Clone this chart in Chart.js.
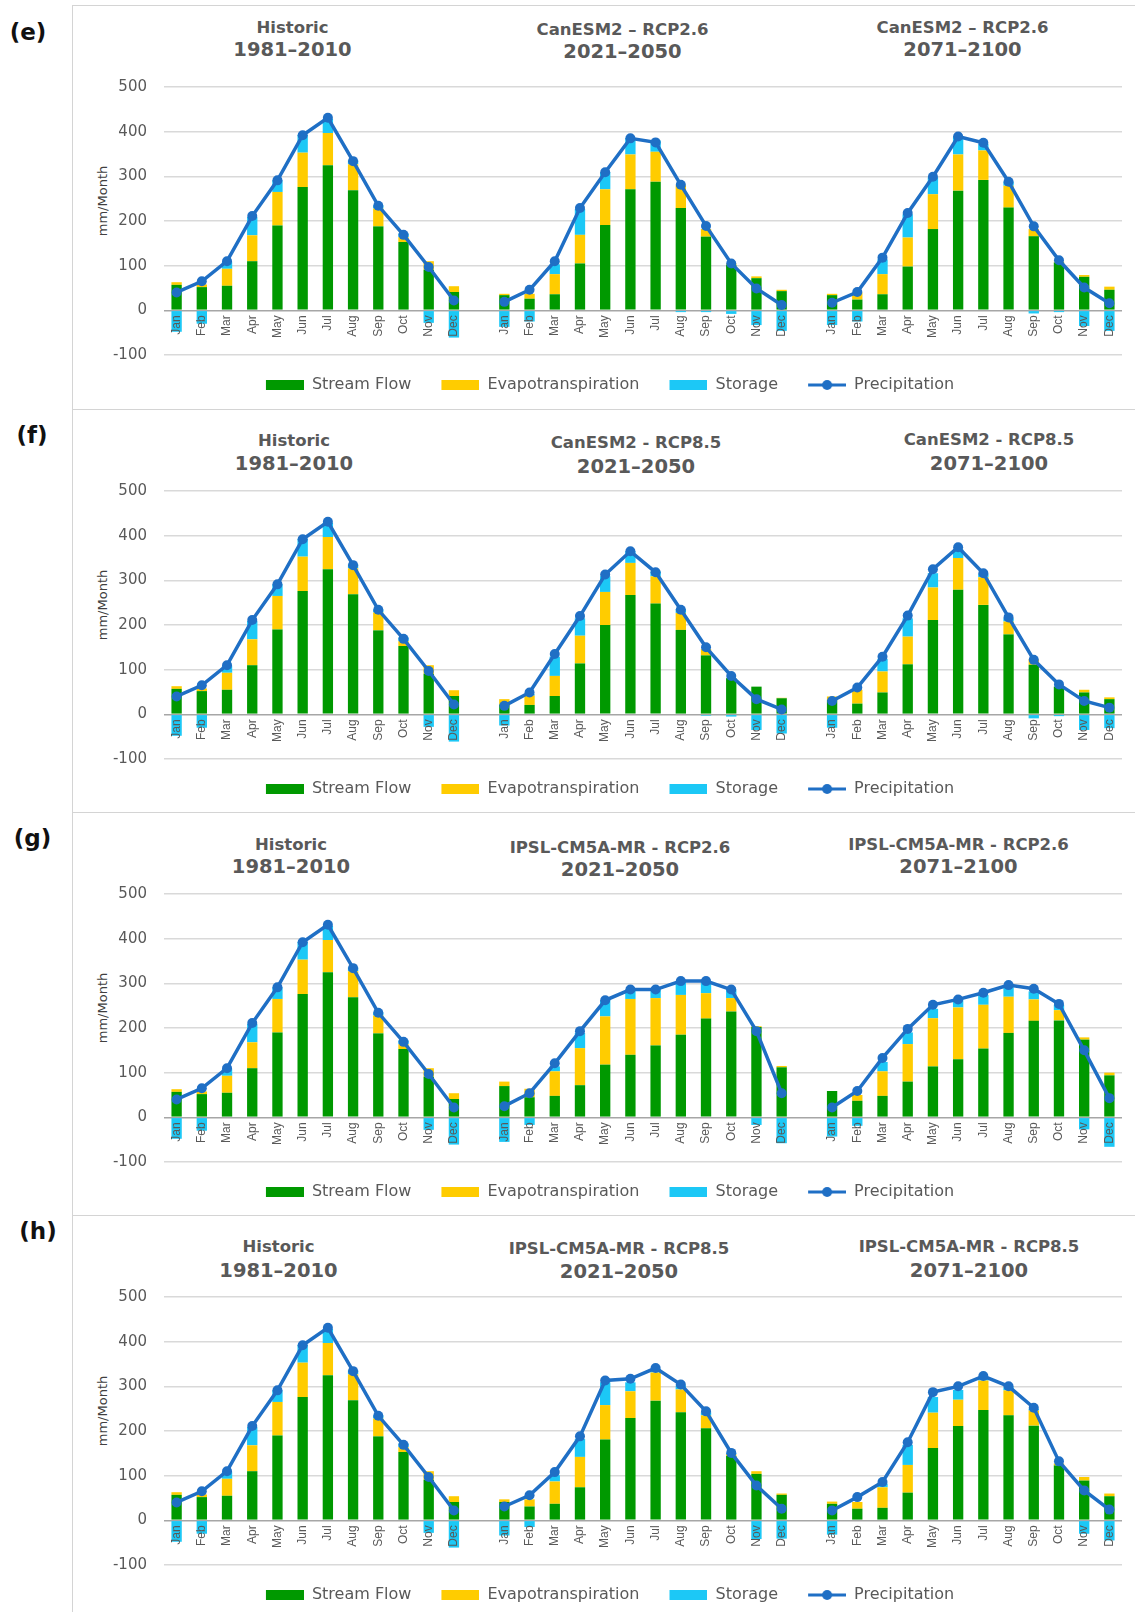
<!DOCTYPE html>
<html>
<head>
<meta charset="utf-8">
<title>Monthly water balance</title>
<script src="https://cdn.jsdelivr.net/npm/chart.js@4.4.1/dist/chart.umd.min.js"></script>
<style>
  body { margin: 0; background: #fff; }
  #page { position: relative; width: 1135px; height: 1612px; overflow: hidden; background: #fff; font-family: "DejaVu Sans", sans-serif; }
  .frame { position: absolute; left: 72px; width: 1100px; height: 404px; border-left: 1.5px solid #d4d4d4; border-top: 1.5px solid #d4d4d4; box-sizing: border-box; }
  .tag { position: absolute; font-weight: bold; font-size: 23px; color: #111; transform: translate(-50%, -50%); white-space: nowrap; line-height: 1; }
  .ttl { position: absolute; font-weight: bold; color: #595959; transform: translate(-50%, -50%); white-space: nowrap; line-height: 1; }
  .t1 { font-size: 16.5px; }
  .t2 { font-size: 19.5px; }
  .ytitle { position: absolute; font-size: 13px; color: #404040; transform: translate(-50%, -50%) rotate(-90deg); white-space: nowrap; line-height: 1; }
  .chartbox { position: absolute; left: 72px; width: 1063px; height: 400px; }
</style>
</head>
<body>
<div id="page"></div>
<script>
// ---- categories ----
const months = ['Jan', 'Feb', 'Mar', 'Apr', 'May', 'Jun', 'Jul', 'Aug', 'Sep', 'Oct', 'Nov', 'Dec'];

// ---- Historic 1981–2010 (mm/month) ----
const histFlow    = [57, 52, 55, 110, 190, 276, 325, 269, 188, 153, 91, 41];
const histEt      = [6, 6, 38, 58, 75, 77, 72, 58, 40, 11, 19, 13];
const histStorage = [-48, -30, 15, 41, 26, 40, 32, 9, 7, 8, -28, -61];
const histPrecip  = [40, 65, 110, 211, 291, 392, 431, 334, 234, 169, 97, 22];

// ---- CanESM2 RCP2.6 2021–2050 ----
const can26NearFlow    = [34, 26, 36, 105, 191, 271, 288, 229, 165, 102, 72, 43];
const can26NearEt      = [3, 11, 45, 64, 80, 78, 67, 51, 17, 3, 4, 3];
const can26NearStorage = [-37, -25, 22, 58, 38, 37, 25, -4, -4, -8, -33, -46];
const can26NearPrecip  = [19, 46, 110, 229, 309, 385, 376, 281, 189, 105, 49, 12];

// ---- CanESM2 RCP2.6 2071–2100 ----
const can26FarFlow    = [34, 24, 36, 98, 182, 268, 292, 230, 166, 107, 75, 46];
const can26FarEt      = [3, 16, 45, 65, 78, 81, 66, 49, 16, 2, 4, 7];
const can26FarStorage = [-33, -25, 33, 52, 38, 40, 14, 9, -7, -4, -35, -46];
const can26FarPrecip  = [17, 41, 118, 218, 299, 389, 375, 288, 188, 112, 51, 16];

// ---- CanESM2 RCP8.5 2021–2050 ----
const can85NearFlow    = [22, 21, 41, 114, 200, 267, 248, 189, 132, 81, 62, 36];
const can85NearEt      = [12, 21, 45, 62, 74, 72, 61, 38, 14, 0, 0, 1];
const can85NearStorage = [-25, 3, 43, 39, 35, 26, 11, 9, -3, -5, -35, -43];
const can85NearPrecip  = [19, 49, 135, 220, 313, 365, 318, 234, 150, 86, 34, 11];

// ---- CanESM2 RCP8.5 2071–2100 ----
const can85FarFlow    = [32, 24, 49, 112, 211, 279, 245, 179, 111, 62, 49, 34];
const can85FarEt      = [8, 31, 47, 62, 73, 71, 62, 29, 12, 0, 6, 4];
const can85FarStorage = [-30, 0, 28, 41, 32, 19, 7, 7, -9, -4, -35, -31];
const can85FarPrecip  = [30, 60, 129, 221, 325, 374, 316, 217, 122, 67, 30, 15];

// ---- IPSL-CM5A-MR RCP2.6 2021–2050 ----
const ipsl26NearFlow    = [70, 45, 48, 72, 118, 140, 161, 185, 221, 237, 202, 112];
const ipsl26NearEt      = [10, 19, 55, 83, 108, 125, 106, 89, 57, 30, 2, 3];
const ipsl26NearStorage = [-55, -17, 11, 34, 36, 21, 19, 31, 27, 19, -17, -58];
const ipsl26NearPrecip  = [25, 54, 121, 193, 262, 286, 286, 305, 305, 286, 193, 54];

// ---- IPSL-CM5A-MR RCP2.6 2071–2100 ----
const ipsl26FarFlow    = [59, 37, 48, 80, 114, 130, 154, 189, 216, 217, 174, 94];
const ipsl26FarEt      = [0, 13, 55, 84, 108, 116, 98, 81, 48, 23, 5, 6];
const ipsl26FarStorage = [-43, -19, 21, 26, 21, 18, 22, 24, 18, 12, -27, -66];
const ipsl26FarPrecip  = [22, 59, 133, 198, 252, 264, 279, 296, 288, 254, 150, 43];

// ---- IPSL-CM5A-MR RCP8.5 2021–2050 ----
const ipsl85NearFlow    = [41, 31, 37, 74, 181, 229, 268, 242, 206, 144, 104, 57];
const ipsl85NearEt      = [6, 16, 50, 68, 77, 60, 63, 51, 29, 4, 6, 3];
const ipsl85NearStorage = [-34, -15, 14, 40, 51, 20, 8, 9, 7, 3, -42, -41];
const ipsl85NearPrecip  = [31, 56, 108, 188, 313, 317, 341, 304, 244, 151, 78, 26];

// ---- IPSL-CM5A-MR RCP8.5 2071–2100 ----
const ipsl85FarFlow    = [37, 26, 28, 62, 162, 211, 247, 235, 212, 123, 89, 54];
const ipsl85FarEt      = [5, 15, 46, 62, 79, 59, 66, 56, 34, 4, 8, 6];
const ipsl85FarStorage = [-32, 0, 8, 45, 35, 22, 4, 7, 4, 0, -30, -45];
const ipsl85FarPrecip  = [22, 52, 86, 175, 287, 300, 323, 300, 252, 132, 67, 24];

// ---- y axis range ----
const yMin = -100, yMax = 500, yStep = 100;

// ---- colours ----
const GREEN = '#009900', YELLOW = '#FFCC00', CYAN = '#1CC8F6', BLUE = '#1F6FC5';

const seriesSet = (flow, et, storage, precip) => ({ flow, et, storage, precip });
const historic = seriesSet(histFlow, histEt, histStorage, histPrecip);
const can26Near = seriesSet(can26NearFlow, can26NearEt, can26NearStorage, can26NearPrecip);
const can26Far = seriesSet(can26FarFlow, can26FarEt, can26FarStorage, can26FarPrecip);
const can85Near = seriesSet(can85NearFlow, can85NearEt, can85NearStorage, can85NearPrecip);
const can85Far = seriesSet(can85FarFlow, can85FarEt, can85FarStorage, can85FarPrecip);
const ipsl26Near = seriesSet(ipsl26NearFlow, ipsl26NearEt, ipsl26NearStorage, ipsl26NearPrecip);
const ipsl26Far = seriesSet(ipsl26FarFlow, ipsl26FarEt, ipsl26FarStorage, ipsl26FarPrecip);
const ipsl85Near = seriesSet(ipsl85NearFlow, ipsl85NearEt, ipsl85NearStorage, ipsl85NearPrecip);
const ipsl85Far = seriesSet(ipsl85FarFlow, ipsl85FarEt, ipsl85FarStorage, ipsl85FarPrecip);

// three periods share one axis, separated by an empty category
const axisLabels = [...months, '', ...months, '', ...months];
const joinPeriods = (groups, key) => [...groups[0][key], null, ...groups[1][key], null, ...groups[2][key]];

// page layout of the four panels
const panels = [
  { tag: '(e)', tagAt: [28, 32], top: 5, groups: [historic, can26Near, can26Far],
    titles: [[292.5, 27.7, 50, 'Historic', '1981–2010'], [622.5, 30, 52, 'CanESM2 – RCP2.6', '2021–2050'], [962.5, 28, 50, 'CanESM2 – RCP2.6', '2071–2100']] },
  { tag: '(f)', tagAt: [32, 435], top: 409, groups: [historic, can85Near, can85Far],
    titles: [[294, 440.7, 464.3, 'Historic', '1981–2010'], [636, 443, 467, 'CanESM2 - RCP8.5', '2021–2050'], [989, 440, 464, 'CanESM2 - RCP8.5', '2071–2100']] },
  { tag: '(g)', tagAt: [32.5, 838], top: 812, groups: [historic, ipsl26Near, ipsl26Far],
    titles: [[291, 845, 867, 'Historic', '1981–2010'], [620, 848, 870, 'IPSL-CM5A-MR - RCP2.6', '2021–2050'], [958.5, 845, 867, 'IPSL-CM5A-MR - RCP2.6', '2071–2100']] },
  { tag: '(h)', tagAt: [38, 1231], top: 1215, groups: [historic, ipsl85Near, ipsl85Far],
    titles: [[278.5, 1247, 1271, 'Historic', '1981–2010'], [619, 1249, 1272, 'IPSL-CM5A-MR - RCP8.5', '2021–2050'], [969, 1247, 1271, 'IPSL-CM5A-MR - RCP8.5', '2071–2100']] }
];

// legend symbols: filled bars and a line with a marker
function legendIcon(kind, color) {
  const c = document.createElement('canvas');
  c.width = 46; c.height = 12;
  const g = c.getContext('2d');
  if (kind === 'bar') {
    g.fillStyle = color;
    g.fillRect(8, 1, 38, 10);
  } else {
    g.strokeStyle = color; g.lineWidth = 3;
    g.beginPath(); g.moveTo(8, 6); g.lineTo(46, 6); g.stroke();
    g.fillStyle = color;
    g.beginPath(); g.arc(27, 6, 5, 0, Math.PI * 2); g.fill();
  }
  return c;
}
const icons = [legendIcon('bar', GREEN), legendIcon('bar', YELLOW), legendIcon('bar', CYAN), legendIcon('line', BLUE)];

const page = document.getElementById('page');
function addDiv(cls, text, style) {
  const d = document.createElement('div');
  d.className = cls;
  if (text) d.textContent = text;
  Object.assign(d.style, style);
  page.appendChild(d);
  return d;
}

panels.forEach(p => {
  addDiv('frame', '', { top: p.top + 'px' });
  addDiv('tag', p.tag, { left: p.tagAt[0] + 'px', top: p.tagAt[1] + 'px' });
  p.titles.forEach(t => {
    addDiv('ttl t1', t[3], { left: t[0] + 'px', top: t[1] + 'px' });
    addDiv('ttl t2', t[4], { left: t[0] + 'px', top: t[2] + 'px' });
  });
  addDiv('ytitle', 'mm/Month', { left: '101.7px', top: (p.top + 196) + 'px' });

  const box = addDiv('chartbox', '', { top: p.top + 'px' });
  const cv = document.createElement('canvas');
  cv.width = 1063; cv.height = 400;
  box.appendChild(cv);

  new Chart(cv, {
    type: 'bar',
    data: {
      labels: axisLabels,
      datasets: [
        { label: 'Stream Flow', data: joinPeriods(p.groups, 'flow'), backgroundColor: GREEN, stack: 'balance', order: 1 },
        { label: 'Evapotranspiration', data: joinPeriods(p.groups, 'et'), backgroundColor: YELLOW, stack: 'balance', order: 1 },
        { label: 'Storage', data: joinPeriods(p.groups, 'storage'), backgroundColor: CYAN, stack: 'balance', order: 1 },
        { type: 'line', label: 'Precipitation', data: joinPeriods(p.groups, 'precip'), stack: 'rain', order: 0,
          borderColor: BLUE, backgroundColor: BLUE, borderWidth: 3.5, tension: 0, spanGaps: false,
          pointRadius: 5, pointBackgroundColor: BLUE, pointBorderColor: BLUE, pointBorderWidth: 0 }
      ]
    },
    options: {
      responsive: false,
      animation: false,
      devicePixelRatio: 1,
      layout: { padding: { top: 82, left: 18, right: 13, bottom: 2 } },
      datasets: { bar: { barPercentage: 0.41, categoryPercentage: 1, borderWidth: 0 } },
      scales: {
        x: {
          stacked: true,
          position: { y: 0 },
          grid: { display: false, drawTicks: false },
          border: { display: false },
          // month names sit on top of the bars, just under the zero line
          ticks: { z: 1, autoSkip: false, minRotation: 90, maxRotation: 90, padding: 5, color: '#595959',
                   font: { family: '"Liberation Sans", Arial, sans-serif', size: 12 } },
          afterFit(s) { s.height = 0; }
        },
        y: {
          stacked: true, min: yMin, max: yMax,
          ticks: { stepSize: yStep, padding: 17, color: '#595959', font: { family: '"DejaVu Sans", sans-serif', size: 15 } },
          grid: { drawTicks: false, lineWidth: 1.5, color: c => (c.tick && c.tick.value === 0) ? '#a6a6a6' : '#d9d9d9' },
          border: { display: false },
          afterFit(s) { s.width = 74; }
        }
      },
      plugins: {
        tooltip: { enabled: false },
        legend: {
          position: 'bottom',
          labels: {
            usePointStyle: true, pointStyleWidth: 46, padding: 22, color: '#595959',
            font: { family: '"DejaVu Sans", sans-serif', size: 16 },
            sort: (a, b) => a.datasetIndex - b.datasetIndex,
            generateLabels(chart) {
              return Chart.defaults.plugins.legend.labels.generateLabels(chart)
                .map(item => Object.assign(item, { pointStyle: icons[item.datasetIndex] }));
            }
          }
        }
      }
    }
  });
});
</script>
</body>
</html>
